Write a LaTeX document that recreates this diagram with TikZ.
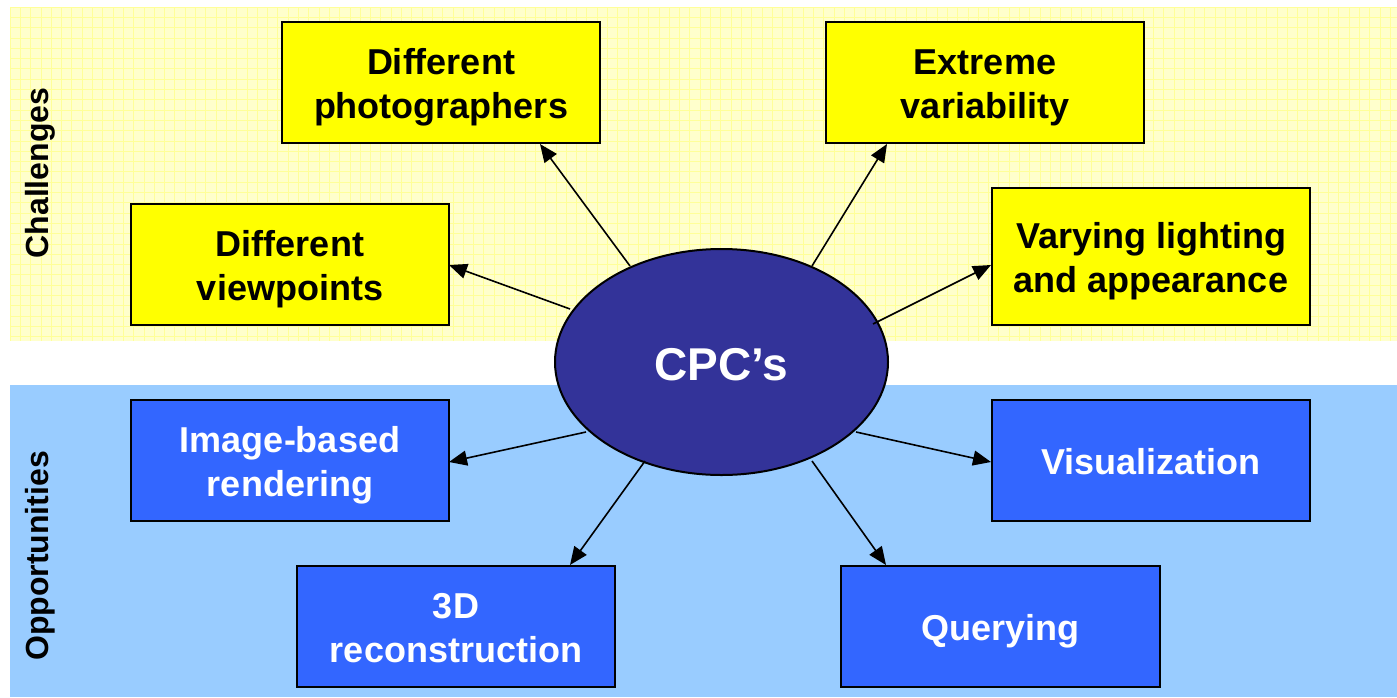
\documentclass[tikz,border=0pt]{standalone}
\usepackage{fontspec}
\setmainfont{Liberation Sans}
\usetikzlibrary{arrows.meta,shapes.geometric}
\definecolor{ybg}{HTML}{FFFFCC}
\definecolor{ygrid}{HTML}{FFFF99}
\definecolor{bbg}{HTML}{99CCFF}
\definecolor{ybox}{HTML}{FFFF00}
\definecolor{bbox}{HTML}{3366FF}
\definecolor{cpcfill}{HTML}{333399}
\tikzset{
  box/.style={draw=black, line width=2.5pt, minimum width=318pt, minimum height=121pt,
    align=center, inner sep=0pt, text height=36pt, text depth=8pt,
    font=\bfseries\fontsize{36}{44}\selectfont},
  twoline/.style={text height=80pt, text depth=8pt},
  chal/.style={box, fill=ybox, text=black},
  opp/.style={box, fill=bbox, text=white},
  conn/.style={line width=1.6pt, -{Triangle[length=18pt,width=15pt]}},
  side/.style={rotate=90, font=\bfseries\fontsize{32}{36}\selectfont},
}
\begin{document}
\begin{tikzpicture}[x=1pt,y=-1pt]
\useasboundingbox (0,0) rectangle (1397,697);
\fill[white] (0,0) rectangle (1397,697);
% backgrounds
\fill[ybg] (10,7) rectangle (1397,341);
\foreach \x in {10,20.3,...,1397} \draw[ygrid, line width=0.8pt] (\x,7) -- (\x,341);
\foreach \y in {7,17.3,...,341} \draw[ygrid, line width=0.8pt] (10,\y) -- (1397,\y);
\fill[bbg] (10,385) rectangle (1397,697);
% side labels
\node[side] (chl) at (40,173) {Challenges};
\node[side] (opl) at (40,556) {Opportunities};
% boxes
\node[chal, twoline] (dp) at (441,82.5) {Different\\photographers};
\node[chal, twoline] (ev) at (985,82.5) {Extreme\\variability};
\node[chal, twoline] (dv) at (290,264.5) {Different\\viewpoints};
\node[chal, twoline, minimum height=137pt] (vl) at (1151,256.5) {Varying lighting\\and appearance};
\node[opp, twoline] (ib) at (290,460.5) {Image-based\\rendering};
\node[opp] (vis) at (1151,460.5) {Visualization};
\node[opp, twoline] (rec) at (456,626.5) {3D\\reconstruction};
\node[opp, minimum width=319pt] (qu) at (1000.5,626.5) {Querying};
% ellipse
\node[draw=black, line width=2pt, fill=cpcfill, ellipse, minimum width=333pt, minimum height=226pt,
  inner sep=0pt, text height=37pt, text depth=0pt, text=white,
  font=\bfseries\fontsize{46}{50}\selectfont] (cpc) at (721.5,362) {CPC’s};
% connector endpoints
\coordinate (s1) at (630,266);  \coordinate (e1) at (540,144);
\coordinate (s2) at (812,266);  \coordinate (e2) at (887,144);
\coordinate (s3) at (570,309);  \coordinate (e3) at (449,265);
\coordinate (s4) at (873,324);  \coordinate (e4) at (991,265);
\coordinate (s5) at (586,432);  \coordinate (e5) at (449,462);
\coordinate (s6) at (856,432);  \coordinate (e6) at (991,462);
\coordinate (s7) at (645,461);  \coordinate (e7) at (570,565);
\coordinate (s8) at (812,461);  \coordinate (e8) at (886,565);
\draw[conn] (s1) -- (e1);
\draw[conn] (s2) -- (e2);
\draw[conn] (s3) -- (e3);
\draw[conn] (s4) -- (e4);
\draw[conn] (s5) -- (e5);
\draw[conn] (s6) -- (e6);
\draw[conn] (s7) -- (e7);
\draw[conn] (s8) -- (e8);
\end{tikzpicture}
\end{document}
